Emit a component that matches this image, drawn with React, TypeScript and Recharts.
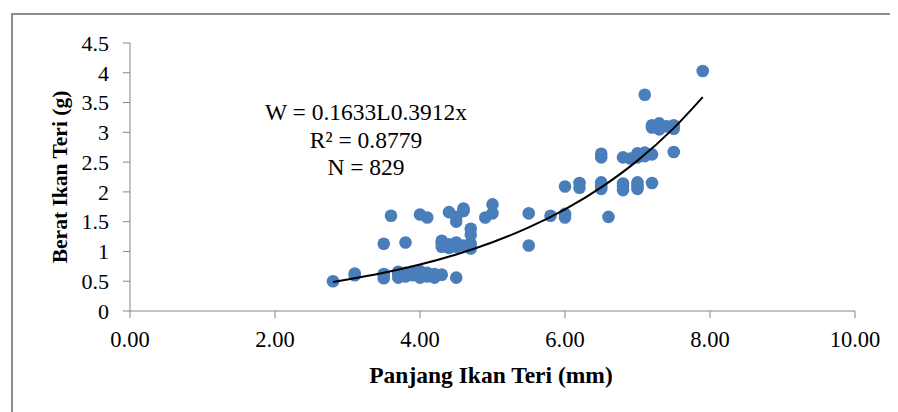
import React from 'react';
import { ScatterChart, Scatter, XAxis, YAxis, Customized } from 'recharts';

const lengths = [
  2.8, 3.1, 3.1, 3.5, 3.5, 3.5, 3.6, 3.7, 3.7, 3.7, 3.8, 3.8, 3.8, 3.9, 3.9, 4.0, 4.0, 4.0, 4.0, 4.1,
  4.1, 4.1, 4.2, 4.2, 4.3, 4.3, 4.3, 4.3, 4.4, 4.4, 4.4, 4.5, 4.5, 4.5, 4.5, 4.5, 4.6, 4.6, 4.6, 4.7,
  4.7, 4.7, 4.7, 4.9, 5.0, 5.0, 5.5, 5.5, 5.8, 6.0, 6.0, 6.0, 6.2, 6.2, 6.5, 6.5, 6.5, 6.5, 6.5, 6.6,
  6.8, 6.8, 6.8, 6.8, 6.9, 7.0, 7.0, 7.0, 7.0, 7.0, 7.1, 7.1, 7.1, 7.2, 7.2, 7.2, 7.2, 7.3, 7.3, 7.3,
  7.4, 7.5, 7.5, 7.5, 7.9,
];
const weights = [
  0.5, 0.6, 0.63, 0.55, 0.62, 1.13, 1.6, 0.56, 0.62, 0.66, 0.58, 0.64, 1.15, 0.6, 0.65, 0.56, 0.63, 0.67, 1.62, 0.58,
  0.64, 1.57, 0.56, 0.62, 0.61, 1.08, 1.14, 1.18, 1.06, 1.12, 1.66, 0.56, 1.08, 1.15, 1.5, 1.58, 1.1, 1.68, 1.72, 1.05,
  1.13, 1.28, 1.38, 1.57, 1.64, 1.79, 1.1, 1.64, 1.6, 1.57, 1.63, 2.09, 2.07, 2.15, 2.05, 2.1, 2.16, 2.58, 2.64, 1.58,
  2.03, 2.09, 2.14, 2.58, 2.56, 2.05, 2.1, 2.16, 2.58, 2.65, 2.6, 2.66, 3.63, 2.15, 2.63, 3.08, 3.12, 3.05, 3.1, 3.15,
  3.1, 2.67, 3.06, 3.12, 4.03,
];

const trendX = [2.8, 3.0, 3.5, 4.0, 4.5, 5.0, 5.5, 6.0, 6.5, 7.0, 7.5, 7.9];
const trendY = [0.488, 0.528, 0.642, 0.781, 0.95, 1.155, 1.404, 1.708, 2.077, 2.525, 3.07, 3.591];

const xTicks = [0, 2, 4, 6, 8, 10];
const yTicks = [0, 0.5, 1, 1.5, 2, 2.5, 3, 3.5, 4, 4.5];

const equationLines = ['W = 0.1633L0.3912x', 'R\u00B2 = 0.8779', 'N = 829'];
const xTitle = 'Panjang Ikan Teri (mm)';
const yTitle = 'Berat Ikan Teri (g)';

const points = lengths.map((x, i) => ({ x, y: weights[i] }));
const trend = trendX.map((x, i) => ({ x, y: trendY[i] }));

const FONT = '"Liberation Serif", "Times New Roman", serif';
const AXIS = '#868686';

const Dot = (props: any) => (
  <circle cx={props.cx} cy={props.cy} r={6.3} fill="#4A7EBB" />
);

const Labels = () => (
  <g fontFamily={FONT} fill="#000">
    {equationLines.map((t, i) => (
      <text key={i} x={358} y={112 + i * 27.5} textAnchor="middle" fontSize={23.5}>
        {t}
      </text>
    ))}
    <text x={483} y={375} textAnchor="middle" fontSize={23.5} fontWeight="bold">
      {xTitle}
    </text>
    <text
      x={0}
      y={0}
      transform={`translate(59 169) rotate(-90)`}
      textAnchor="middle"
      fontSize={21.5}
      fontWeight="bold"
    >
      {yTitle}
    </text>
  </g>
);

export default function App() {
  return (
    <div style={{ position: 'relative', width: 890, height: 404, overflow: 'hidden', background: '#fff' }}>
      <div
        style={{
          position: 'absolute',
          left: 3,
          top: 5,
          width: 920,
          height: 440,
          border: '2px solid #8c8c8c',
          boxSizing: 'border-box',
        }}
      />
      <ScatterChart
        width={890}
        height={404}
        margin={{ top: 35, right: 43, bottom: 31, left: 42 }}
        style={{ position: 'absolute', left: 0, top: 0 }}
      >
        <XAxis
          type="number"
          dataKey="x"
          domain={[0, 10]}
          ticks={xTicks}
          interval={0}
          tickFormatter={(v: number) => v.toFixed(2)}
          height={70}
          stroke={AXIS}
          tickSize={7}
          tickMargin={13}
          tick={{ fill: '#000', fontSize: 22.5, fontFamily: FONT }}
          allowDataOverflow
        />
        <YAxis
          type="number"
          dataKey="y"
          domain={[0, 4.5]}
          ticks={yTicks}
          interval={0}
          width={80}
          stroke={AXIS}
          tickSize={7}
          tickMargin={14}
          tick={{ fill: '#000', fontSize: 22, fontFamily: FONT }}
          allowDataOverflow
        />
        <Scatter data={points} shape={Dot} isAnimationActive={false} />
        <Scatter
          data={trend}
          line={{ stroke: '#000', strokeWidth: 2 }}
          lineJointType="monotoneX"
          shape={() => <g />}
          isAnimationActive={false}
        />
        <Customized component={Labels} />
      </ScatterChart>
    </div>
  );
}
